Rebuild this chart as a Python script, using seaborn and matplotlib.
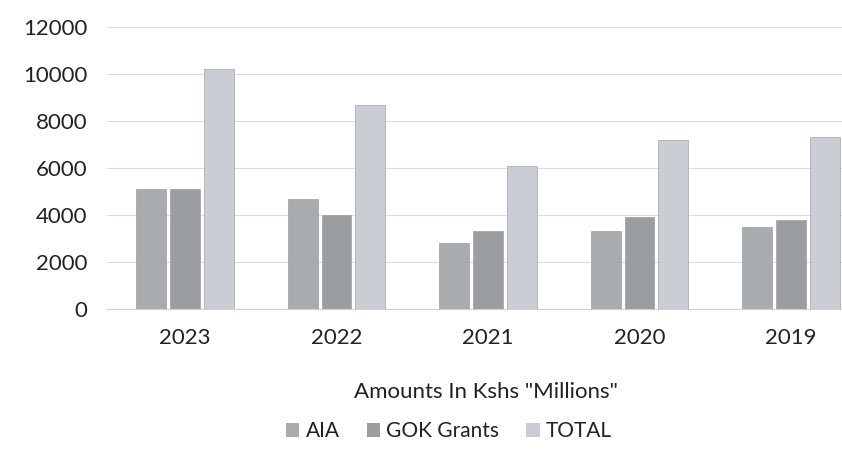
import matplotlib
matplotlib.use("Agg")
import matplotlib.pyplot as plt
from matplotlib.patches import Patch
import seaborn as sns
import pandas as pd

years = ["2023", "2022", "2021", "2020", "2019"]
aia = [5100, 4700, 2800, 3300, 3500]
gok_grants = [5100, 4000, 3300, 3900, 3800]
total = [10200, 8700, 6100, 7200, 7300]
series = ["AIA", "GOK Grants", "TOTAL"]
yticks = [0, 2000, 4000, 6000, 8000, 10000, 12000]

colors = {"AIA": "#a8acaf", "GOK Grants": "#9a9ea1", "TOTAL": "#c9ccd4"}

df = pd.DataFrame({
    "Year": years * 3,
    "Series": [s for s in series for _ in years],
    "Amount": aia + gok_grants + total,
})

sns.set_theme(style="white")
plt.rcParams["font.family"] = ["Lato", "DejaVu Sans"]

W, H = 842, 462
fig = plt.figure(figsize=(W / 100, H / 100), dpi=100)
left_px, right_px, top_px, bottom_px = 107, 842, 27, 309
ax = fig.add_axes([left_px / W, 1 - bottom_px / H,
                   (right_px - left_px) / W, (bottom_px - top_px) / H])

sns.barplot(data=df, x="Year", y="Amount", hue="Series", order=years,
            hue_order=series, palette=colors, width=0.67, gap=0.12,
            errorbar=None, ax=ax, legend=False, zorder=3)
for p in ax.patches:
    p.set_edgecolor("#909496")
    p.set_linewidth(0.4)

ax.set_ylim(0, 12000)
# category spacing is 151.5 px with the first centre at x=185
ax.set_xlim((left_px - 185) / 151.5, (right_px - 185) / 151.5)
ax.set_yticks(yticks)
ax.set_yticklabels([str(v) for v in yticks])
ax.yaxis.grid(True, color="#dcdcdc", linewidth=0.8, zorder=0)
ax.set_axisbelow(True)
for side in ["top", "right", "left"]:
    ax.spines[side].set_visible(False)
ax.spines["bottom"].set_color("#d0d0d0")
ax.spines["bottom"].set_linewidth(0.8)
ax.tick_params(axis="both", length=0, labelsize=16, colors="#222222")
ax.tick_params(axis="y", pad=14)
ax.tick_params(axis="x", pad=14)
ax.set_ylabel("")
ax.set_xlabel("")

fig.text(486 / W, 1 - 392 / H, 'Amounts In Kshs "Millions"', ha="center",
         va="center", fontsize=16, color="#222222")

handles = [Patch(facecolor=colors[s], edgecolor="none") for s in series]
fig.legend(handles, series, loc="center", bbox_to_anchor=(449 / W, 1 - 431 / H),
           ncol=3, frameon=False, fontsize=15, handlelength=0.65,
           handleheight=0.65, handletextpad=0.3, columnspacing=1.3,
           labelcolor="#222222")

fig.savefig("out.png", dpi=100, facecolor="white")
